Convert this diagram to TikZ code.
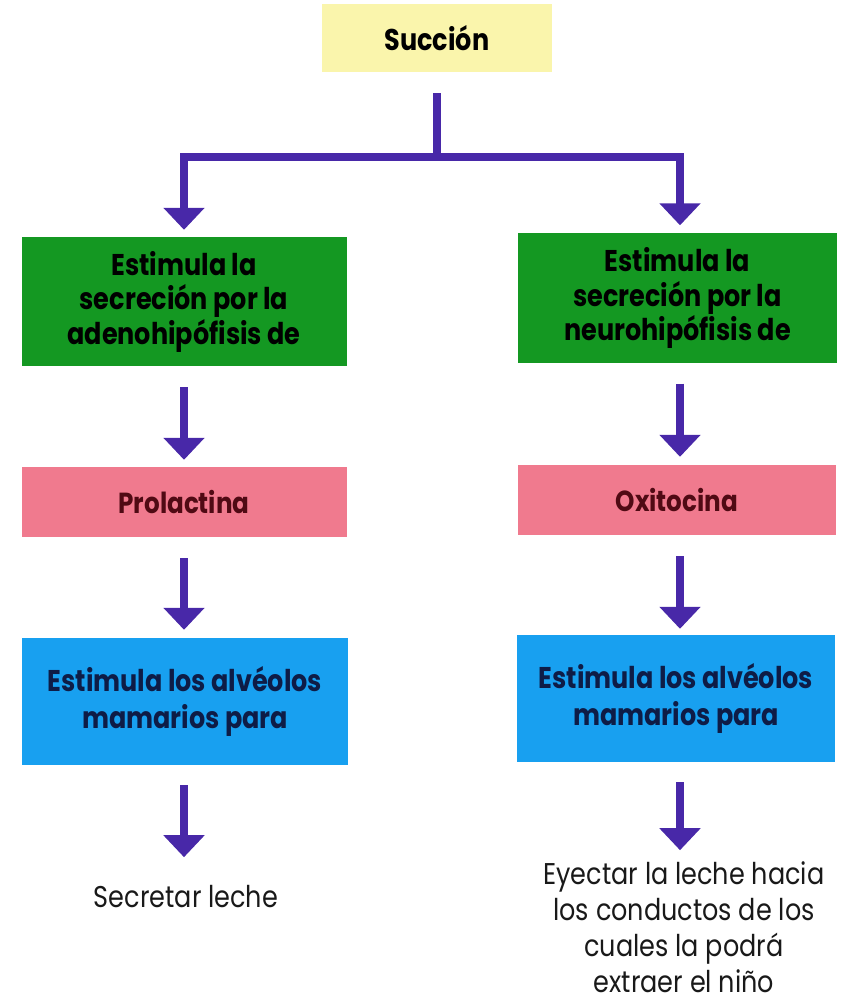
\documentclass[tikz,border=0pt]{standalone}
\usepackage{fontspec}
\usetikzlibrary{arrows.meta,calc}
\newfontfamily\ff{Poppins}[FakeStretch=0.85]
\definecolor{cyel}{RGB}{250,245,172}
\definecolor{cgreen}{RGB}{20,152,34}
\definecolor{cpink}{RGB}{240,122,142}
\definecolor{cblue}{RGB}{24,160,240}
\definecolor{carrow}{RGB}{72,40,168}
\definecolor{tpink}{RGB}{80,10,20}
\definecolor{tblue}{RGB}{14,28,70}
\tikzset{
  boxbase/.style={rectangle, inner sep=0pt, align=center, font=\ff\bfseries\fontsize{30}{34.5}\selectfont},
  ybox/.style={boxbase, fill=cyel, minimum width=230pt, minimum height=68pt, font=\ff\bfseries\fontsize{30}{34}\selectfont},
  gbox/.style={boxbase, fill=cgreen, text=black, minimum height=129pt},
  pbox/.style={boxbase, fill=cpink, text=tpink, minimum height=70pt, font=\ff\bfseries\fontsize{29}{34}\selectfont},
  bbox/.style={boxbase, fill=cblue, text=tblue, minimum height=127pt, font=\ff\bfseries\fontsize{30}{37}\selectfont},
  endtext/.style={inner sep=0pt, align=center, text=black!90, font=\ff\fontsize{30}{36}\selectfont},
  conn/.style={draw=carrow, line width=8pt},
  arr/.style={conn, -{Triangle[width=40pt,length=22pt]}}
}
\begin{document}
\begin{tikzpicture}[x=1pt,y=-1pt]
\useasboundingbox (0,0) rectangle (848,1008);
\coordinate (cl) at (184,0);
\coordinate (cr) at (680,0);
\node[ybox] (top) at (437,38) {Succión};
\node[gbox, minimum width=325pt] (g1) at (184,301.5) {Estimula la\\secreción por la\\adenohipófisis de};
\node[gbox, minimum width=319pt] (g2) at (677.5,298) {Estimula la\\secreción por la\\neurohipófisis de};
\node[pbox, minimum width=325pt] (p1) at (184,502) {Prolactina};
\node[pbox, minimum width=318pt] (p2) at (677,500) {Oxitocina};
\node[bbox, minimum width=326pt] (b1) at (185,701.5) {Estimula los alvéolos\\mamarios para};
\node[bbox, minimum width=318pt] (b2) at (676,698.5) {Estimula los alvéolos\\mamarios para};
\node[endtext] (t1) at (186,897) {Secretar leche};
\node[endtext] (t2) at (684,927) {Eyectar la leche hacia\\los conductos de los\\cuales la podrá\\extraer el niño};
\coordinate (j) at (437,157);
\draw[conn] ($(top.south)+(0,21)$) -- (j);
\draw[arr] (j) -| ($(cl |- g1.north)+(0,-7)$);
\draw[arr] (j) -| ($(cr |- g2.north)+(0,-8)$);
\draw[arr] ($(cl |- g1.south)+(0,21)$) -- ($(cl |- p1.north)+(0,-7)$);
\draw[arr] ($(cr |- g2.south)+(0,21)$) -- ($(cr |- p2.north)+(0,-8)$);
\draw[arr] ($(cl |- p1.south)+(0,21)$) -- ($(cl |- b1.north)+(0,-8)$);
\draw[arr] ($(cr |- p2.south)+(0,21)$) -- ($(cr |- b2.north)+(0,-6)$);
\draw[arr] ($(cl |- b1.south)+(0,20)$) -- ($(cl |- b1.south)+(0,92)$);
\draw[arr] ($(cr |- b2.south)+(0,20)$) -- ($(cr |- b2.south)+(0,88)$);
\end{tikzpicture}
\end{document}
